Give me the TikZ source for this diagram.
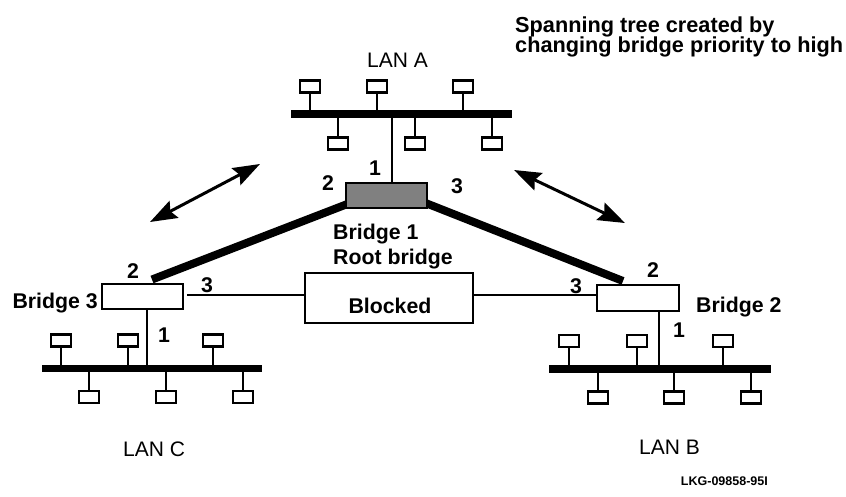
\documentclass[tikz,border=0pt]{standalone}
\usepackage{fontspec}
\setmainfont{Liberation Sans}
\usetikzlibrary{arrows.meta}
\pgfdeclarelayer{bg}
\pgfsetlayers{bg,main}

\begin{document}
\begin{tikzpicture}[x=1pt,y=-1pt,
  lbl/.style={font=\fontsize{21.3}{23}\selectfont\bfseries, inner sep=0pt},
  lan/.style={font=\fontsize{21}{22}\selectfont, inner sep=0pt},
  bus/.style={line width=7.5pt},
  station/.style={draw, line width=2.2pt, fill=white, minimum width=20pt, minimum height=12pt, inner sep=0pt},
  stem/.style={line width=2.2pt},
  bridgebox/.style={draw, line width=2.2pt, inner sep=0pt, minimum width=81pt, minimum height=25pt},
  trunk/.style={line width=8pt},
  link/.style={line width=2.2pt},
  tip/.style={Stealth[length=27pt,width=19pt,inset=4pt]},
  dbl/.style={line width=3pt, {Stealth[length=27pt,width=19pt,inset=4pt]}-{Stealth[length=27pt,width=19pt,inset=4pt]}}
]
\useasboundingbox (0,0) rectangle (846,496);
\begin{pgfonlayer}{bg}
  \fill[white] (0,0) rectangle (846,496);
\end{pgfonlayer}

% ---- LAN A ----
\coordinate (aL) at (291,114);
\coordinate (aR) at (512,114);
\draw[bus] (aL) -- (aR);
\foreach \x [count=\i] in {310,377,463} {
  \node[station] (at\i) at (\x,86.5) {};
  \draw[stem] (at\i.south) -- (at\i.south |- aL);
}
\foreach \x [count=\i] in {338,415,492} {
  \node[station] (ab\i) at (\x,143.5) {};
  \draw[stem] (ab\i.north) -- (ab\i.north |- aL);
}
\node[lan, anchor=base west] (lanA) at (367,67) {LAN A};

% ---- LAN C ----
\coordinate (cL) at (42,368.5);
\coordinate (cR) at (262,368.5);
\draw[bus] (cL) -- (cR);
\foreach \x [count=\i] in {61,128,213} {
  \node[station] (ct\i) at (\x,340.5) {};
  \draw[stem] (ct\i.south) -- (ct\i.south |- cL);
}
\foreach \x [count=\i] in {89,166,243} {
  \node[station] (cb\i) at (\x,397) {};
  \draw[stem] (cb\i.north) -- (cb\i.north |- cL);
}
\node[lan, anchor=base west] (lanC) at (123,456) {LAN C};

% ---- LAN B ----
\coordinate (bL) at (549,369);
\coordinate (bR) at (771,369);
\draw[bus] (bL) -- (bR);
\foreach \x [count=\i] in {569,637,723} {
  \node[station] (bt\i) at (\x,341) {};
  \draw[stem] (bt\i.south) -- (bt\i.south |- bL);
}
\foreach \x [count=\i] in {598,674,751} {
  \node[station] (bb\i) at (\x,397.5) {};
  \draw[stem] (bb\i.north) -- (bb\i.north |- bL);
}
\node[lan, anchor=base east] (lanB) at (700,454) {LAN B};

% ---- Bridges ----
\node[bridgebox, fill={rgb,255:red,128;green,128;blue,128}] (b1) at (386.5,195.5) {};
\node[bridgebox, fill=white] (b3) at (142.5,296.5) {};
\node[bridgebox, fill=white, minimum width=82pt, minimum height=26pt] (b2) at (638,298) {};
\node[draw, line width=2.2pt, fill=white, minimum width=168pt, minimum height=50pt, inner sep=0pt] (blk) at (389,298) {};
\node[lbl, anchor=base] (blkt) at (390,313) {Blocked};

% drop lines from the buses to the bridges
\coordinate (pA) at (392,114);
\draw[link] (pA) -- (pA |- b1.north);
\coordinate (pC) at (147,368.5);
\draw[link] (pC) -- (pC |- b3.south);
\coordinate (pB) at (659,369);
\draw[link] (pB) -- (pB |- b2.south);

% thick forwarding links from the root bridge
\coordinate (t1L) at (350,203);
\coordinate (t3) at (152,279.5);
\coordinate (t1R) at (423,202);
\coordinate (t2) at (623,281);
\begin{pgfonlayer}{bg}
  \draw[trunk] (t1L) -- (t3);
  \draw[trunk] (t1R) -- (t2);
\end{pgfonlayer}

% thin links through the blocked path
\draw[link, shorten <=3pt] (b3.east |- 0,295) coordinate (l3) -- (l3 -| blk.west);
\draw[link] (blk.east |- 0,295) coordinate (l2) -- (l2 -| b2.west);

% port numbers
\node[lbl, anchor=base] (n1a) at (375,175) {1};
\node[lbl, anchor=base] (n1b) at (328,190) {2};
\node[lbl, anchor=base] (n1c) at (457,193) {3};
\node[lbl, anchor=base] (n3b) at (133,278) {2};
\node[lbl, anchor=base] (n3c) at (207,292) {3};
\node[lbl, anchor=base] (n3a) at (164,342) {1};
\node[lbl, anchor=base] (n2c) at (576,293) {3};
\node[lbl, anchor=base] (n2b) at (653,277) {2};
\node[lbl, anchor=base] (n2a) at (679,337) {1};

% bridge names
\node[lbl, anchor=base west] (b1n) at (333,239) {Bridge 1};
\node[lbl, anchor=base west] (b1r) at (333,264) {Root bridge};
\node[lbl, anchor=base east] (b3n) at (98,308) {Bridge 3};
\node[lbl, anchor=base west] (b2n) at (696,312) {Bridge 2};

% double arrows
\coordinate (arL1) at (150,222);
\coordinate (arL2) at (260,164);
\coordinate (arR1) at (514,170);
\coordinate (arR2) at (625,223);
\draw[dbl] (arL1) -- (arL2);
\draw[dbl] (arR1) -- (arR2);

% heading and reference tag
\node[lbl, font=\fontsize{21.7}{23}\selectfont\bfseries, anchor=base west] (h1) at (515,32) {Spanning tree created by};
\node[lbl, font=\fontsize{21.7}{23}\selectfont\bfseries, anchor=base west] (h2) at (515,52) {changing bridge priority to high};
\node[lbl, font=\fontsize{12.5}{14}\selectfont\bfseries, anchor=base east] (tag) at (768,485) {LKG-09858-95I};
\end{tikzpicture}
\end{document}
